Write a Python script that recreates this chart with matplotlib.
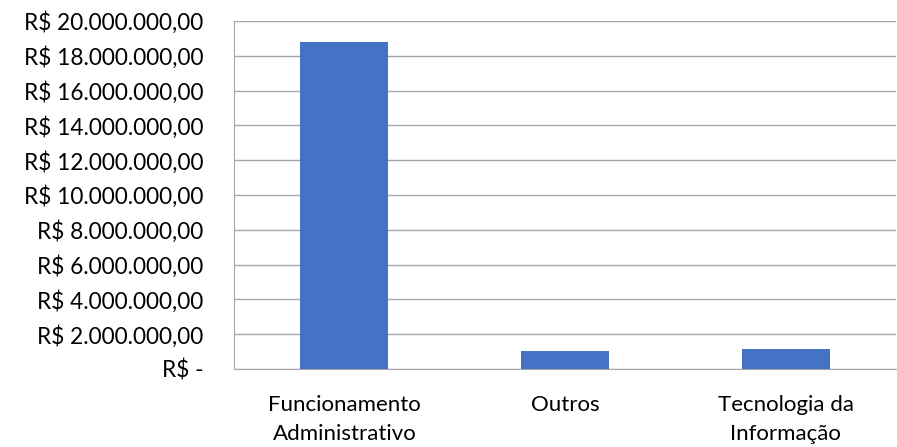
import numpy as np
import matplotlib
matplotlib.use("Agg")
import matplotlib.pyplot as plt
from matplotlib.ticker import FuncFormatter

plt.rcParams['font.family'] = ['Lato', 'DejaVu Sans']

# dados
categorias = ['Funcionamento\nAdministrativo', 'Outros', 'Tecnologia da\nInformação']
valores = [18800000, 1050000, 1130000]


def fmt_reais(v, pos):
    if v == 0:
        return 'R$ -'
    s = f'{v:,.2f}'
    s = s.replace(',', 'X').replace('.', ',').replace('X', '.')
    return 'R$ ' + s


fig = plt.figure(figsize=(8.97, 4.47), dpi=100)
ax = fig.add_axes([0.2609, 0.1745, 0.7380, 0.7785])

x = np.arange(len(categorias))
ax.bar(x, valores, width=0.4, color='#4472C4', zorder=3)

ax.set_xlim(-0.5, len(categorias) - 0.5)
ax.set_ylim(0, 20000000)
ax.set_yticks(np.arange(0, 20000001, 2000000))
ax.yaxis.set_major_formatter(FuncFormatter(fmt_reais))
ax.set_xticks(x)
ax.set_xticklabels(categorias, linespacing=1.55)

ax.grid(axis='y', color='#A6A6A6', linewidth=1, zorder=0)
for s in ['top', 'right']:
    ax.spines[s].set_visible(False)
ax.spines['left'].set_color('#A6A6A6')
ax.spines['bottom'].set_color('#A6A6A6')
ax.tick_params(axis='both', length=0, colors='black')
ax.tick_params(axis='y', pad=22, labelsize=16.3)
ax.tick_params(axis='x', pad=19, labelsize=16)

fig.savefig('out.png', dpi=100)
